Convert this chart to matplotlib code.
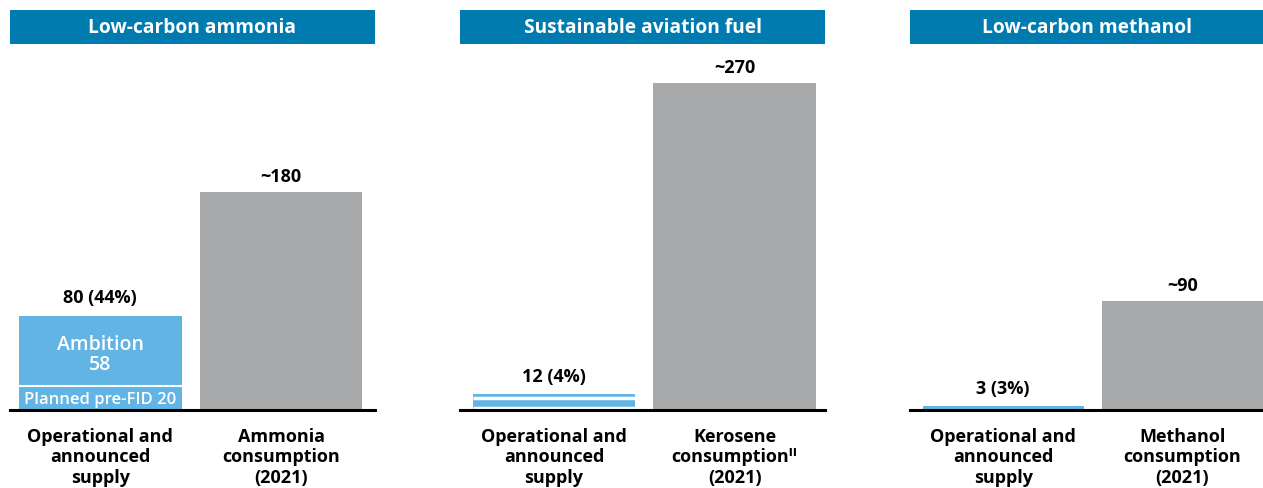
import matplotlib
matplotlib.use("Agg")
import matplotlib.pyplot as plt
from matplotlib.patches import Rectangle

plt.rcParams['font.family'] = ['Open Sans', 'DejaVu Sans']

# ---- data ----
panel_titles = ["Low-carbon ammonia", "Sustainable aviation fuel", "Low-carbon methanol"]
supply_label = "Operational and\nannounced\nsupply"
consumption_labels = ["Ammonia\nconsumption\n(2021)",
                      "Kerosene\nconsumption\u1d35\u1d35\n(2021)",
                      "Methanol\nconsumption\n(2021)"]
ammonia_segments = [20, 58]          # planned pre-FID, ambition
saf_segments = [2, 8, 3]
methanol_segments = [3]
supply_totals_text = ["80 (44%)", "12 (4%)", "3 (3%)"]
consumption_values = [180, 270, 90]
consumption_text = ["~180", "~270", "~90"]

BLUE_HDR = "#007bb0"
LIGHT = "#62b4e4"
GREY = "#a7a8aa"

W, H = 1263, 489
fig = plt.figure(figsize=(W / 100, H / 100), dpi=100)

# panel spans in pixels (left, right)
spans = [(10, 375), (460, 825), (910, 1263)]
xlims = [(-0.5, 1.52), (-0.52, 1.5), (-0.52, 1.45)]
gap_lw = [1.5, 2.5, 0]
base_px = 411
top_px = 45
hdr_top = 11

segments_all = [ammonia_segments, saf_segments, methanol_segments]

for i, (l, r) in enumerate(spans):
    # header
    fig.add_artist(Rectangle((l / W, 1 - top_px / H), (r - l) / W, (top_px - hdr_top) / H,
                             transform=fig.transFigure, facecolor=BLUE_HDR, edgecolor='none'))
    fig.text((l + r) / 2 / W, 1 - (top_px + hdr_top) / 2 / H, panel_titles[i],
             color='white', fontsize=13.8, fontweight='bold', ha='center', va='center')

    ax = fig.add_axes([l / W, 1 - base_px / H, (r - l) / W, (base_px - top_px - 8) / H])
    ax.set_xlim(*xlims[i])
    ax.set_ylim(0, (base_px - top_px - 8) / 1.21)
    for s in ['top', 'right', 'left']:
        ax.spines[s].set_visible(False)
    ax.spines['bottom'].set_linewidth(2.2)
    ax.spines['bottom'].set_color('black')
    ax.spines['bottom'].set_zorder(5)
    ax.set_yticks([])
    ax.tick_params(axis='x', length=0, pad=12)
    ax.set_xticks([0, 1])
    ax.set_xticklabels([supply_label, consumption_labels[i]], fontsize=13,
                       fontweight='bold', linespacing=1.2)

    segs = segments_all[i]
    bw = 0.9
    bottom = 0
    for k, s in enumerate(segs):
        ax.bar(0, s, width=bw, bottom=bottom, color=LIGHT, edgecolor='none')
        bottom += s
        if k < len(segs) - 1 and gap_lw[i] > 0:
            ax.plot([-bw / 2, bw / 2], [bottom, bottom], color='white',
                    lw=gap_lw[i], solid_capstyle='butt', zorder=3)
    total = bottom
    ax.annotate(supply_totals_text[i], (0, total), xytext=(0, 7), textcoords='offset points',
                ha='center', va='bottom', fontsize=13, fontweight='bold')

    ax.bar(1, consumption_values[i], width=bw, color=GREY)
    ax.annotate(consumption_text[i], (1, consumption_values[i]), xytext=(0, 5),
                textcoords='offset points', ha='center', va='bottom', fontsize=13,
                fontweight='bold')

    if i == 0:
        ax.text(0, segs[0] / 2 - 0.5, "Planned pre-FID 20", color='white', fontsize=12,
                fontweight='semibold', ha='center', va='center', zorder=4)
        ax.text(0, segs[0] + segs[1] / 2 - 3, "Ambition\n58", color='white', fontsize=14,
                fontweight='semibold', ha='center', va='center', linespacing=1.0, zorder=4)

fig.savefig("out.png", dpi=100)
